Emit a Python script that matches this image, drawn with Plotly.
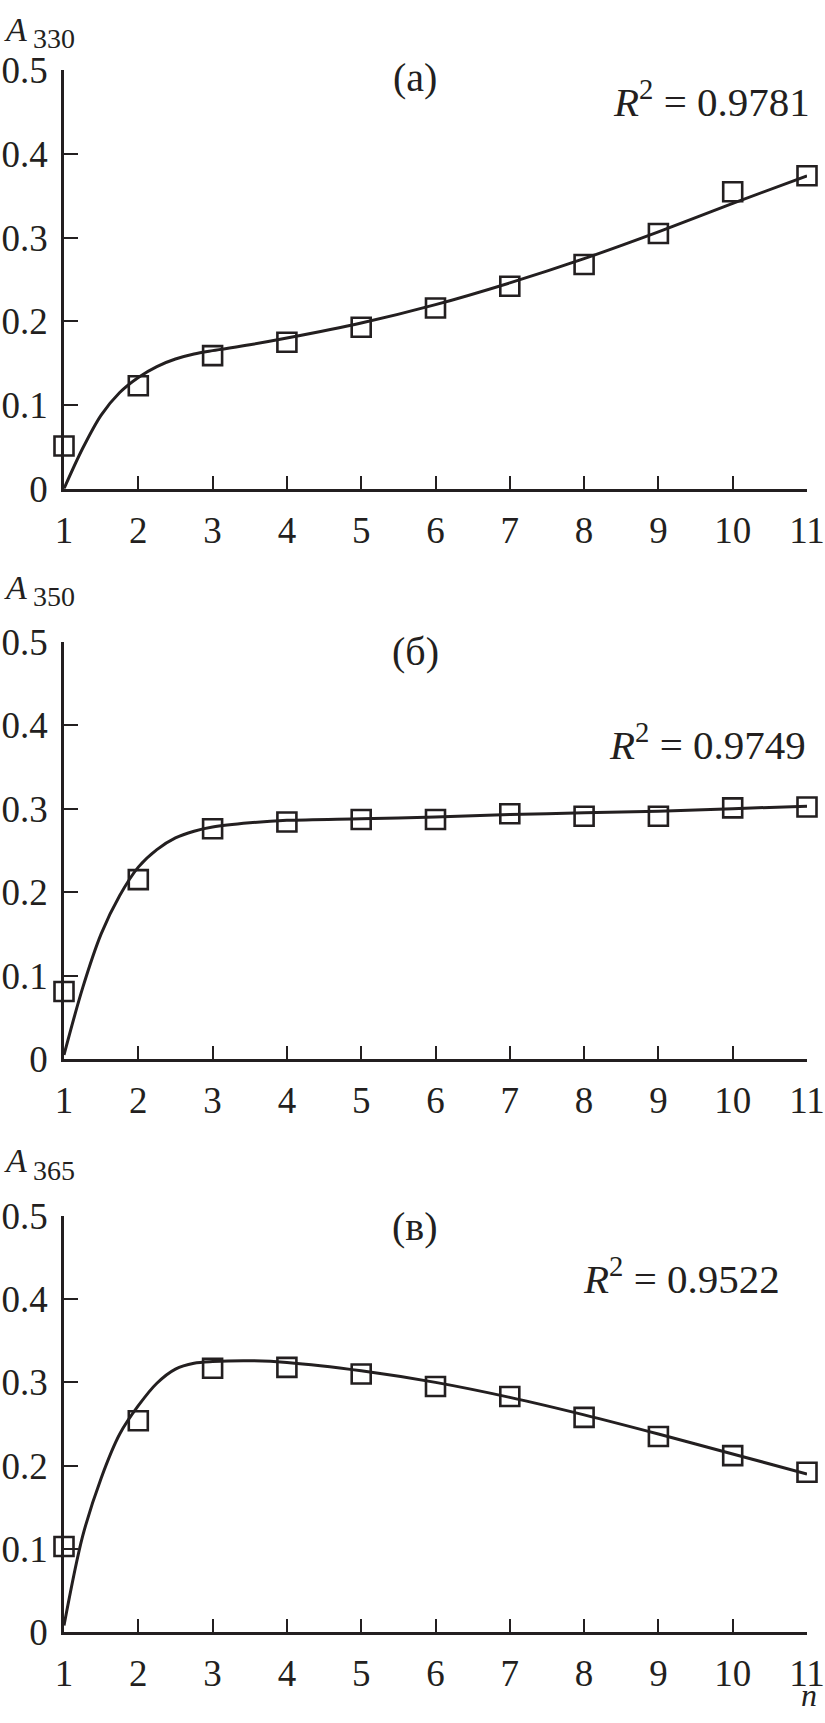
import plotly.graph_objects as go

# ---- data ----
n_points = [1, 2, 3, 4, 5, 6, 7, 8, 9, 10, 11]
a330_points = [0.051, 0.123, 0.159, 0.175, 0.193, 0.216, 0.242, 0.268, 0.305, 0.355, 0.374]
a350_points = [0.081, 0.215, 0.276, 0.284, 0.287, 0.287, 0.294, 0.291, 0.291, 0.301, 0.302]
a365_points = [0.103, 0.254, 0.317, 0.318, 0.310, 0.295, 0.283, 0.258, 0.235, 0.212, 0.192]

n_curve = [1, 1.25, 1.5, 1.75, 2, 2.25, 2.5, 2.75, 3, 3.5, 4, 5, 6, 7, 8, 9, 10, 11]
a330_curve = [0.0, 0.048, 0.088, 0.115, 0.133, 0.146, 0.155, 0.161, 0.165, 0.172, 0.180,
              0.198, 0.220, 0.246, 0.275, 0.307, 0.341, 0.374]
a350_curve = [0.005, 0.085, 0.150, 0.196, 0.230, 0.251, 0.265, 0.273, 0.278, 0.283, 0.286,
              0.288, 0.290, 0.293, 0.295, 0.297, 0.300, 0.303]
a365_curve = [0.008, 0.115, 0.185, 0.238, 0.272, 0.299, 0.316, 0.323, 0.325, 0.326, 0.324,
              0.314, 0.300, 0.282, 0.261, 0.238, 0.214, 0.190]

x_ticks = [1, 2, 3, 4, 5, 6, 7, 8, 9, 10, 11]
y_ticks = [0, 0.1, 0.2, 0.3, 0.4, 0.5]
y_ticktext = ["0", "0.1", "0.2", "0.3", "0.4", "0.5"]

panel_labels = ["(a)", "(б)", "(в)"]
y_names = ["330", "350", "365"]
r2_texts = ["0.9781", "0.9749", "0.9522"]

# ---- layout geometry (pixels) ----
W, H = 825, 1723
L, R = 64, 811
panels_px = [(51.6, 480.1), (636.9, 1064.4), (1225.0, 1651.5)]  # (top, bottom) of y-axis
ink = "#231f20"
font_family = "Liberation Serif, Times New Roman, serif"


def px(x):
    return (x - L) / (R - L)


def py(y):
    return 1 - y / H


fig = go.Figure()
series = [(a330_points, a330_curve), (a350_points, a350_curve), (a365_points, a365_curve)]
for i, (pts, crv) in enumerate(series):
    sfx = "" if i == 0 else str(i + 1)
    fig.add_trace(go.Scatter(x=n_curve, y=crv, mode="lines",
                             line=dict(color=ink, width=3, shape="spline", smoothing=0.9),
                             xaxis="x" + sfx, yaxis="y" + sfx, showlegend=False,
                             cliponaxis=False, hoverinfo="skip"))
    fig.add_trace(go.Scatter(x=n_points, y=pts, mode="markers",
                             marker=dict(symbol="square-open", size=19, color=ink,
                                         line=dict(color=ink, width=2.6)),
                             xaxis="x" + sfx, yaxis="y" + sfx, showlegend=False,
                             cliponaxis=False))

layout = dict(width=W, height=H, margin=dict(l=L, r=W - R, t=0, b=0),
              paper_bgcolor="white", plot_bgcolor="white", showlegend=False,
              font=dict(family=font_family, color=ink))

annotations = []
for i, (top, bot) in enumerate(panels_px):
    sfx = "" if i == 0 else str(i + 1)
    layout["xaxis" + sfx] = dict(
        domain=[0, 1], anchor="y" + sfx, range=[1, 11], tickvals=x_ticks,
        ticktext=[str(v) for v in x_ticks], ticks="inside", ticklen=13, tickwidth=2,
        tickcolor=ink, showline=True, linecolor=ink, linewidth=2.5, showgrid=False,
        zeroline=False, tickfont=dict(size=37, family=font_family, color=ink),
        ticklabelstandoff=7, ticklabeloverflow="allow", fixedrange=True)
    layout["yaxis" + sfx] = dict(
        domain=[py(bot), py(top)], anchor="x" + sfx, range=[0, 0.5], tickvals=y_ticks,
        ticktext=y_ticktext, ticks="inside", ticklen=14, tickwidth=2, tickcolor=ink,
        showline=True, linecolor=ink, linewidth=2.5, showgrid=False, zeroline=False,
        tickfont=dict(size=37, family=font_family, color=ink), ticklabelstandoff=6,
        ticklabeloverflow="allow", fixedrange=True)

# y-axis name labels: italic A plus large subscript digits
name_pos = [(10, 19), (581, 591), (1168, 1179)]
for i in range(3):
    annotations.append(dict(x=px(2), y=py(name_pos[i][0]), xref="paper", yref="paper",
                            xanchor="left", yanchor="middle", showarrow=False,
                            text="<i>A</i>",
                            font=dict(size=34, family=font_family, color=ink)))
    annotations.append(dict(x=px(31), y=py(name_pos[i][1]), xref="paper", yref="paper",
                            xanchor="left", yanchor="middle", showarrow=False,
                            text=y_names[i],
                            font=dict(size=28, family=font_family, color=ink)))

# panel labels
lab_y = [59, 647, 1236]
for i in range(3):
    annotations.append(dict(x=px(417), y=py(lab_y[i]), xref="paper", yref="paper",
                            xanchor="center", yanchor="middle", showarrow=False,
                            text=panel_labels[i],
                            font=dict(size=40, family=font_family, color=ink)))

# R^2 labels
r2_pos = [(816, 81), (812, 740), (786, 1287)]
for i in range(3):
    annotations.append(dict(x=px(r2_pos[i][0]), y=py(r2_pos[i][1]), xref="paper", yref="paper",
                            xanchor="right", yanchor="middle", showarrow=False,
                            text="<i>R</i><sup>2</sup> = " + r2_texts[i],
                            font=dict(size=41, family=font_family, color=ink)))

# n label
annotations.append(dict(x=px(813), y=py(1716), xref="paper", yref="paper",
                        xanchor="center", yanchor="middle", showarrow=False,
                        text="<i>n</i>", font=dict(size=32, family=font_family, color=ink)))

layout["annotations"] = annotations
fig.update_layout(**layout)
fig.write_html("out.html", config={"displayModeBar": False},
               post_script="document.body.style.margin='0';document.body.style.overflow='hidden';")
